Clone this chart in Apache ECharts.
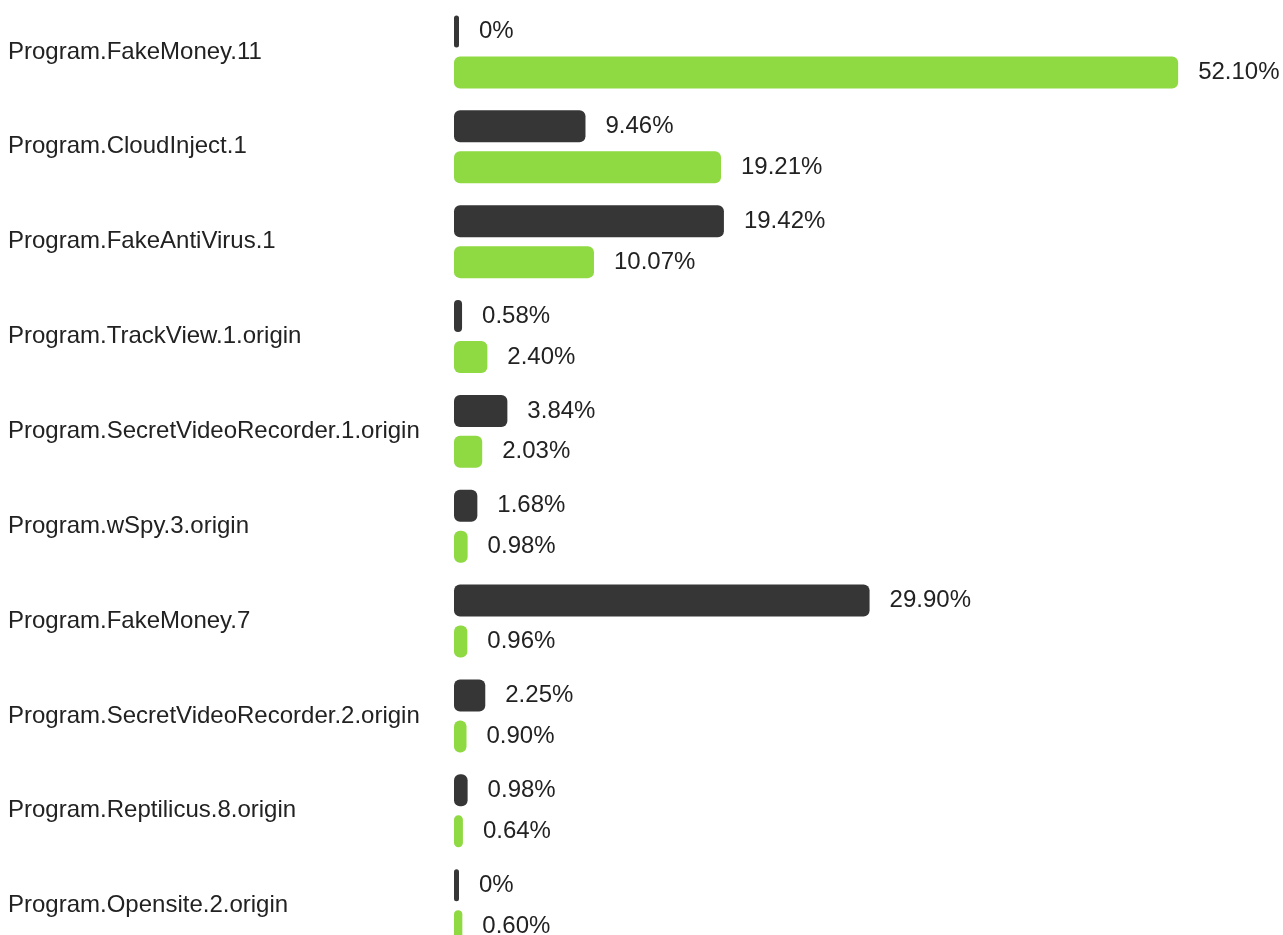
<!DOCTYPE html>
<html>
<head>
<meta charset="utf-8">
<style>
html,body{margin:0;padding:0;background:#fff;overflow:hidden;width:1283px;height:935px;}
#chart{width:1283px;height:960px;}
</style>
<script src="https://cdn.jsdelivr.net/npm/echarts@6/dist/echarts.min.js"></script>
</head>
<body>
<div id="chart"></div>
<script>
const categories = [
  'Program.FakeMoney.11',
  'Program.CloudInject.1',
  'Program.FakeAntiVirus.1',
  'Program.TrackView.1.origin',
  'Program.SecretVideoRecorder.1.origin',
  'Program.wSpy.3.origin',
  'Program.FakeMoney.7',
  'Program.SecretVideoRecorder.2.origin',
  'Program.Reptilicus.8.origin',
  'Program.Opensite.2.origin'
];
const darkValues = [0, 9.46, 19.42, 0.58, 3.84, 1.68, 29.90, 2.25, 0.98, 0];
const greenValues = [52.10, 19.21, 10.07, 2.40, 2.03, 0.98, 0.96, 0.90, 0.64, 0.60];

const fmt = p => (p.value === 0 ? '0%' : p.value.toFixed(2) + '%');
const FONT = '"Liberation Sans", Arial, Helvetica, sans-serif';

const labelStyle = {
  show: true,
  position: 'right',
  distance: 20,
  formatter: fmt,
  color: '#222',
  fontSize: 24,
  fontFamily: FONT
};

const chart = echarts.init(document.getElementById('chart'), null, {renderer: 'canvas'});
chart.setOption({
  animation: false,
  backgroundColor: '#fff',
  grid: {left: 454, width: 770, top: 4.5, height: 948.6, containLabel: false},
  xAxis: {
    type: 'value', min: 0, max: 55.4, show: false
  },
  yAxis: {
    type: 'category',
    data: categories,
    inverse: true,
    axisLine: {show: false},
    axisTick: {show: false},
    splitLine: {show: false},
    axisLabel: {
      align: 'left',
      margin: 446,
      color: '#222',
      fontSize: 24,
      fontFamily: FONT
    }
  },
  series: [
    {
      type: 'bar',
      data: darkValues,
      barWidth: 32,
      barGap: '28%',
      barMinHeight: 5,
      itemStyle: {color: '#363636', borderRadius: 6},
      label: labelStyle
    },
    {
      type: 'bar',
      data: greenValues,
      barWidth: 32,
      barGap: '28%',
      barMinHeight: 5,
      itemStyle: {color: '#8fd942', borderRadius: 6},
      label: labelStyle
    }
  ]
});
</script>
</body>
</html>
